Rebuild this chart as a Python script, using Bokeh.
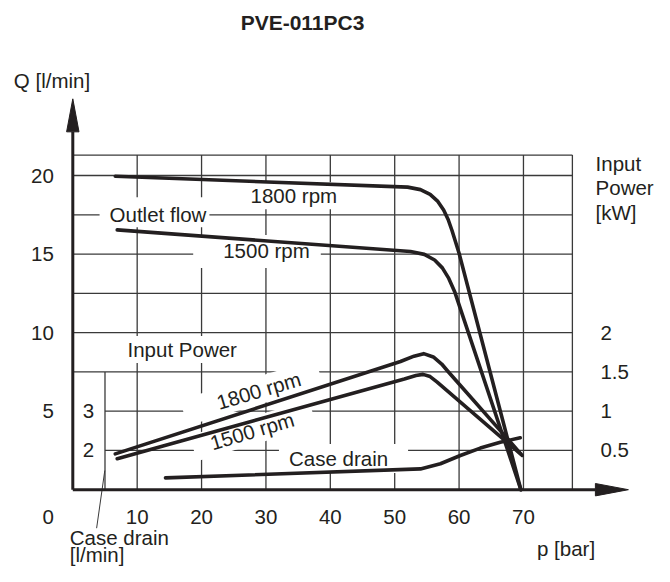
from bokeh.plotting import figure
from bokeh.models import Range1d
from bokeh.core.properties import value
from bokeh.embed import file_html
from bokeh.resources import INLINE

# ---------------- data ----------------
title_text = "PVE-011PC3"

x_ticks = [10, 20, 30, 40, 50, 60, 70]
x_tick_labels = ["10", "20", "30", "40", "50", "60", "70"]
q_ticks = [5, 10, 15, 20]
q_tick_labels = ["5", "10", "15", "20"]
power_ticks = [0.5, 1.0, 1.5, 2.0]          # kW
power_tick_labels = ["0.5", "1", "1.5", "2"]
drain_ticks = [2, 3]                        # l/min
drain_tick_labels = ["2", "3"]
q_grid = [2.5, 5, 7.5, 10, 12.5, 15, 17.5, 20]

# outlet flow Q [l/min] vs p [bar]
outlet_1800_p = [6.6, 52.0, 54.0, 55.5, 56.7, 57.6, 58.3, 58.9, 60.0, 69.6]
outlet_1800_q = [19.95, 19.26, 19.1, 18.8, 18.35, 17.8, 17.2, 16.5, 15.05, 0.0]
outlet_1500_p = [6.9, 52.45, 54.6, 56.2, 57.4, 58.4, 59.3, 69.6]
outlet_1500_q = [16.54, 15.16, 14.98, 14.62, 14.12, 13.45, 12.62, 0.0]

# input power [kW] vs p [bar]
power_1800_p = [6.6, 50.9, 53.0, 54.5, 56.0, 57.3, 58.15, 69.55]
power_1800_kw = [0.456, 1.632, 1.70, 1.732, 1.69, 1.60, 1.518, 0.46]
power_1500_p = [6.9, 51.5, 53.3, 54.4, 55.5, 56.6, 69.8]
power_1500_kw = [0.394, 1.41, 1.455, 1.468, 1.44, 1.37, 0.436]

# case drain [l/min] vs p [bar]
drain_p = [14.4, 54.0, 57.1, 60.2, 63.3, 66.4, 69.5]
drain_lpm = [1.30, 1.53, 1.66, 1.87, 2.06, 2.21, 2.32]

# ---------------- layout ----------------
W, H = 654, 566
PXU, PYU = 6.438, 15.71          # px per bar, px per l/min
ORIG_X, ORIG_Y = 72.3, 489.2     # origin position in px
X0 = -ORIG_X / PXU
X1 = X0 + W / PXU
Y1 = ORIG_Y / PYU
Y0 = Y1 - H / PYU
KW_PER_Q = 0.2           # 2 kW <-> 10 l/min
DRAIN_OFF, DRAIN_PER_Q = 1.0, 0.4

P_MAX = 77.6
Q_MAX = 21.3
DRAIN_AXIS_P = 5.0

INK = "#231f20"
GRID = "#3a3a3a"
FONT = value("Liberation Sans")
FS = "20.5px"

p = figure(width=W, height=H, x_range=Range1d(X0, X1), y_range=Range1d(Y0, Y1),
           output_backend="svg", toolbar_location=None, min_border=0,
           x_axis_type=None, y_axis_type=None, outline_line_color=None,
           background_fill_color="white", border_fill_color="white")
p.grid.visible = False
p.extra_y_ranges = {
    "kw": Range1d(Y0 * KW_PER_Q, Y1 * KW_PER_Q),
    "drain": Range1d(Y0 * DRAIN_PER_Q + DRAIN_OFF, Y1 * DRAIN_PER_Q + DRAIN_OFF),
}

# grid
p.segment(x0=x_ticks + [P_MAX], y0=[0] * (len(x_ticks) + 1),
          x1=x_ticks + [P_MAX], y1=[Q_MAX] * (len(x_ticks) + 1),
          line_color=GRID, line_width=1.3)
hy = q_grid + [Q_MAX]
hx0 = [DRAIN_AXIS_P if y < 7.5 else 0 for y in hy]
p.segment(x0=hx0, y0=hy, x1=[P_MAX] * len(hy), y1=hy, line_color=GRID, line_width=1.3)
# case drain scale line and leader
p.segment(x0=[DRAIN_AXIS_P], y0=[0], x1=[DRAIN_AXIS_P], y1=[7.5], line_color=GRID, line_width=1.3)
p.segment(x0=[3.7], y0=[-2.45], x1=[4.97], y1=[1.22], line_color=GRID, line_width=1.0)

def txt(x, y, t, align="center", size=FS, style="normal", bg=None, pad=None, angle=0, yr="default"):
    kw = dict(x=x, y=y, text=t, text_font=FONT, text_font_size=size, text_color=INK,
              text_align=align, text_baseline="middle", text_font_style=style,
              angle=angle, angle_units="deg", y_range_name=yr)
    if bg:
        kw["background_fill_color"] = bg
        kw["padding"] = pad
    p.text(**kw)

# labels with white masks
txt([12.69], [17.66], ["Outlet flow"], bg="white", pad=dict(left=10, right=3, top=6, bottom=1))
txt([34.33], [18.71], ["1800 rpm"], bg="white", pad=dict(left=4, right=4, top=2, bottom=2))
txt([28.61], [15.16], ["1500 rpm"], bg="white", pad=dict(left=30, right=11, top=4, bottom=6))
txt([16.22], [8.92], ["Input Power"], bg="white", pad=dict(left=18, right=8, top=2, bottom=2))
txt([27.76], [6.18], ["1800 rpm"], bg="white", pad=dict(left=35, right=20, top=2, bottom=2), angle=16.5)
txt([27.99], [3.76], ["1500 rpm"], bg="white", pad=dict(left=18, right=20, top=2, bottom=2), angle=16.5)
txt([42.05], [1.98], ["Case drain"], bg="white", pad=dict(left=10, right=20, top=3, bottom=3))

# curves
LW = 3.6
p.line(outlet_1800_p, outlet_1800_q, line_color=INK, line_width=LW, line_join="round", line_cap="round")
p.line(outlet_1500_p, outlet_1500_q, line_color=INK, line_width=LW, line_join="round", line_cap="round")
p.line(power_1800_p, power_1800_kw, line_color=INK, line_width=LW, line_join="round", line_cap="round", y_range_name="kw")
p.line(power_1500_p, power_1500_kw, line_color=INK, line_width=LW, line_join="round", line_cap="round", y_range_name="kw")
p.line(drain_p, drain_lpm, line_color=INK, line_width=LW, line_join="round", line_cap="round", y_range_name="drain")

# axes with arrows
HEAD_LEN, HEAD_HALF = 33, 6.2
x_tip = 86.3
y_tip = 24.88
xb = x_tip - HEAD_LEN / PXU
yb = y_tip - HEAD_LEN / PYU
p.segment(x0=[0, 0], y0=[0, 0], x1=[xb, 0], y1=[0, yb], line_color=INK, line_width=3)
p.patch([xb, x_tip, xb], [HEAD_HALF / PYU, 0, -HEAD_HALF / PYU], fill_color=INK, line_color=INK)
p.patch([-HEAD_HALF / PXU, 0, HEAD_HALF / PXU], [yb, y_tip, yb], fill_color=INK, line_color=INK)

# tick labels
txt(x_ticks, [-1.71] * len(x_ticks), x_tick_labels)
txt([-2.95] * len(q_ticks), q_ticks, q_tick_labels, align="right")
txt([-2.95], [-1.71], ["0"], align="right")
txt([81.96] * len(power_ticks), power_ticks, power_tick_labels, align="left", yr="kw")
txt([2.44] * len(drain_ticks), drain_ticks, drain_tick_labels, yr="drain")

# titles / axis names
txt([35.68], [29.74], [title_text], size="21px", style="bold")
txt([-9.16], [26.05], ["Q [l/min]"], align="left")
txt([81.2] * 3, [20.74, 19.26, 17.66], ["Input", "Power", "[kW]"], align="left")
txt([72.1], [-3.76], ["p [bar]"], align="left")
txt([-0.47, -0.47], [-3.02, -4.15], ["Case drain", "[l/min]"], align="left")

open("out.html", "w").write(file_html(p, INLINE))
